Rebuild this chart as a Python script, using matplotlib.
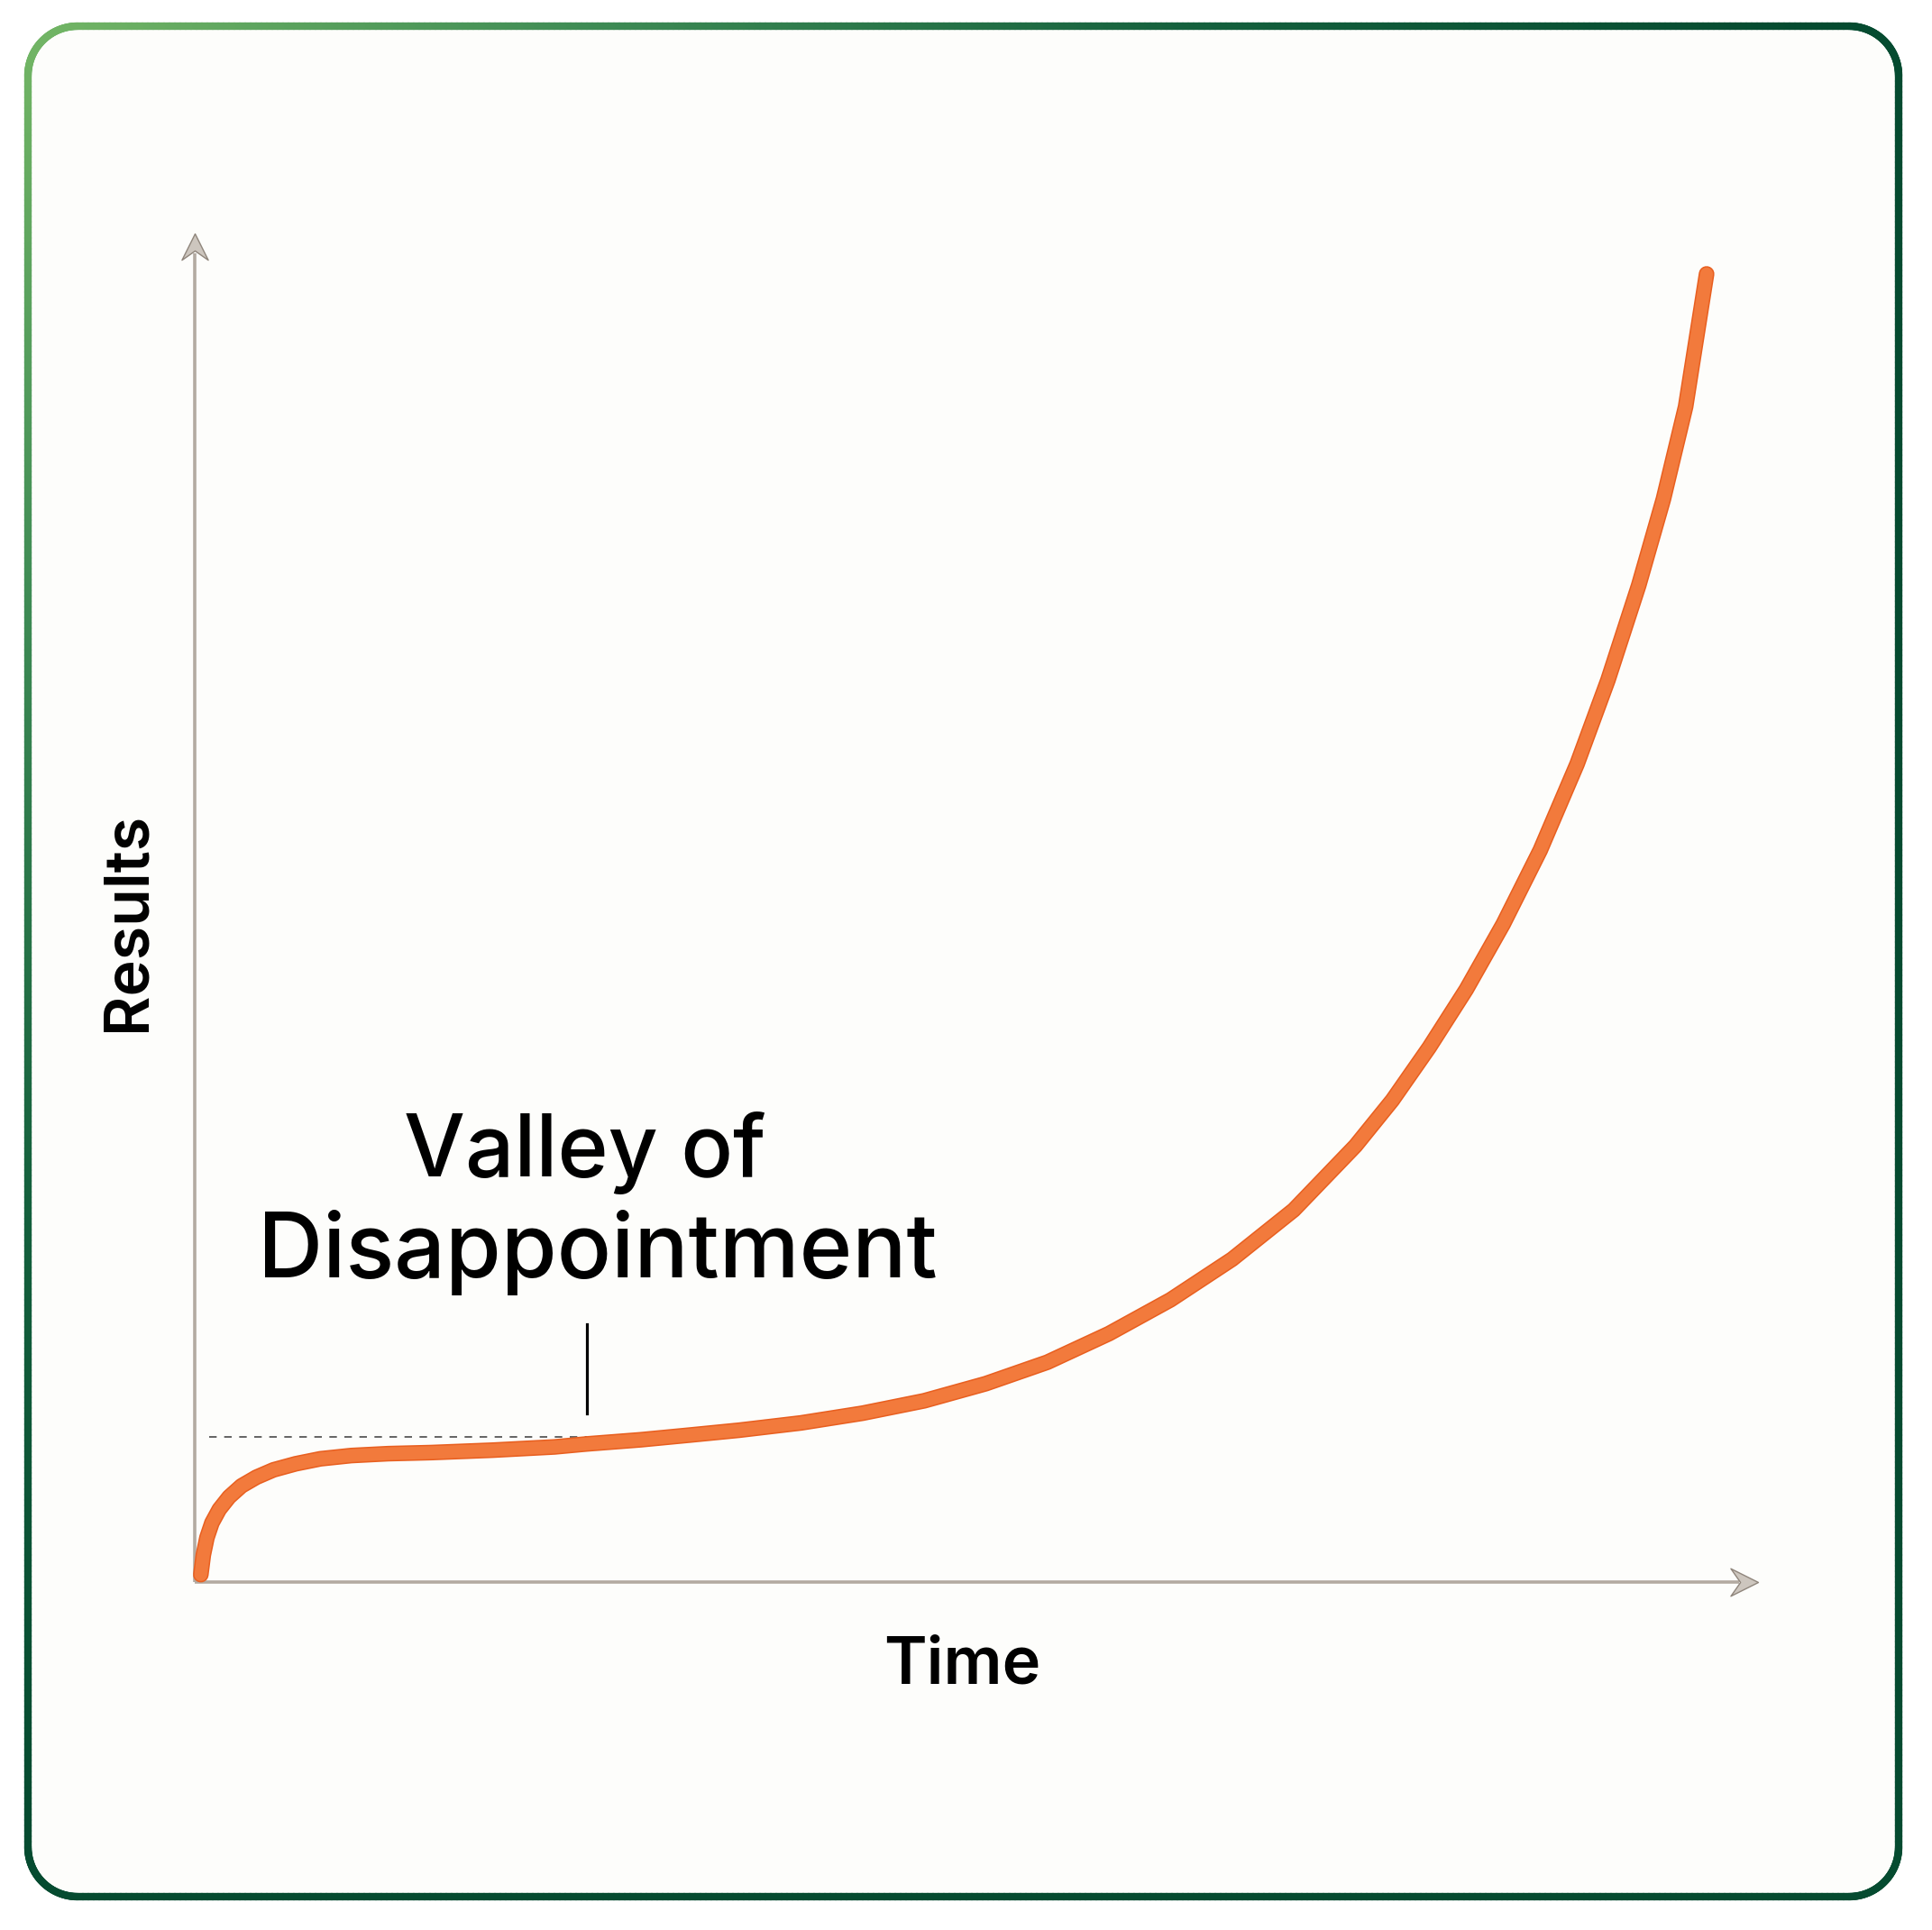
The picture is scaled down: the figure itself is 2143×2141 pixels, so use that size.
import numpy as np
import matplotlib
matplotlib.use("Agg")
import matplotlib.pyplot as plt
from matplotlib.patches import FancyBboxPatch
from matplotlib.collections import LineCollection
from matplotlib.path import Path
from matplotlib.colors import LinearSegmentedColormap

plt.rcParams['font.family'] = ['Inter', 'DejaVu Sans']

# curve (time 0..100, results 0..100)
time_pts = [0.39, 0.55, 0.78, 1.10, 1.57, 2.20, 2.99, 3.94, 5.04, 6.46, 8.04, 10.01,
            12.37, 15.13, 19.07, 23.01, 25.06, 28.53, 31.68, 34.84, 38.78, 42.72,
            46.66, 50.60, 54.54, 58.48, 62.42, 66.36, 70.30, 74.25, 76.61, 78.97,
            81.34, 83.70, 86.07, 88.43, 90.40, 92.37, 93.95, 95.37, 96.71]
results_pts = [0.55, 2.01, 3.29, 4.39, 5.39, 6.31, 7.13, 7.77, 8.32, 8.77, 9.14, 9.38,
               9.52, 9.60, 9.78, 10.02, 10.24, 10.55, 10.90, 11.26, 11.80, 12.52,
               13.44, 14.71, 16.30, 18.42, 20.93, 23.94, 27.59, 32.35, 35.73, 39.65,
               43.95, 48.79, 54.27, 60.67, 66.88, 73.91, 80.31, 87.16, 97.0]

valley_time = 25.06
valley_level = 10.78
valley_tick = [12.5, 19.1]
label_lines = ["Valley of", "Disappointment"]
x_label = "Time"
y_label = "Results"

W, H = 2143, 2141
fig = plt.figure(figsize=(W / 100, H / 100), dpi=100, facecolor='white')

# card background with gradient rounded border
bg = fig.add_axes([0, 0, 1, 1])
bg.set_xlim(0, W)
bg.set_ylim(H, 0)
bg.axis('off')
x0, x1, y0, y1, rad = 31, 2106, 29, 2104, 55
bg.add_patch(FancyBboxPatch((x0, y0), x1 - x0, y1 - y0,
                            boxstyle="round,pad=0,rounding_size=%d" % rad,
                            fc='#fdfdfb', ec='none'))


def arc(cx, cy, a0, a1):
    a = np.radians(np.linspace(a0, a1, 30))
    return np.c_[cx + rad * np.cos(a), cy + rad * np.sin(a)]


pts = np.vstack([
    arc(x0 + rad, y0 + rad, 180, 270),
    [[x1 - rad, y0]],
    arc(x1 - rad, y0 + rad, 270, 360),
    [[x1, y1 - rad]],
    arc(x1 - rad, y1 - rad, 0, 90),
    [[x0 + rad, y1]],
    arc(x0 + rad, y1 - rad, 90, 180),
    [[x0, y0 + rad]],
])
# densify so the colour gradient is smooth
dense = []
for a, b in zip(pts[:-1], pts[1:]):
    n = max(2, int(np.hypot(*(b - a)) / 6))
    dense.append(np.linspace(a, b, n, endpoint=False))
dense.append(pts[-1:])
dense = np.vstack(dense)
segs = np.stack([dense[:-1], dense[1:]], axis=1)
mid = segs.mean(axis=1)
tval = np.clip((mid[:, 0] / W + mid[:, 1] / H) / 0.95, 0, 1)
cmap = LinearSegmentedColormap.from_list('g', ['#78ba67', '#3f8c55', '#14603d', '#054b30'])
lc = LineCollection(segs, colors=cmap(tval), linewidths=6, capstyle='round')
bg.add_collection(lc)

# main chart axes: origin at the axis corner, top at arrow tips
ax = fig.add_axes([216 / W, (H - 1755) / H, (1950 - 216) / W, (1755 - 259) / H])
ax.set_xlim(0, 100)
ax.set_ylim(0, 100)
ax.axis('off')
ax.patch.set_alpha(0)

axis_col = '#b3aaa1'
ax.plot([0, 98.8], [0, 0], color=axis_col, lw=2.6, solid_capstyle='butt', clip_on=False, zorder=2)
ax.plot([0, 0], [0, 98.5], color=axis_col, lw=2.6, solid_capstyle='butt', clip_on=False, zorder=2)

right_head = Path([(0, 0), (-2, 1), (-1.3, 0), (-2, -1), (0, 0)],
                  [Path.MOVETO, Path.LINETO, Path.LINETO, Path.LINETO, Path.CLOSEPOLY])
up_head = Path([(0, 0), (1, -2), (0, -1.3), (-1, -2), (0, 0)],
               [Path.MOVETO, Path.LINETO, Path.LINETO, Path.LINETO, Path.CLOSEPOLY])
ax.plot([100], [0], marker=right_head, ms=44, mfc='#cdc6be', mec='#8f857b', mew=1.0,
        clip_on=False, zorder=3)
ax.plot([0], [100], marker=up_head, ms=42, mfc='#cdc6be', mec='#8f857b', mew=1.0,
        clip_on=False, zorder=3)

# valley guide
ax.plot([0.94, valley_time], [valley_level, valley_level], color='#4a4a4a', lw=1.2,
        dashes=(5, 5), zorder=3)
ax.plot([valley_time, valley_time], valley_tick, color='black', lw=2.3, zorder=3)

# the curve
ax.plot(time_pts, results_pts, color='#e85f20', lw=12.5, solid_capstyle='round',
        solid_joinstyle='round', zorder=4, clip_on=False)
ax.plot(time_pts, results_pts, color='#f27a3c', lw=10.3, solid_capstyle='round',
        solid_joinstyle='round', zorder=5, clip_on=False)

ax.text(24.98, 30.1, label_lines[0], ha='center', va='baseline', fontsize=69,
        color='black', fontweight='medium')
ax.text(25.77, 22.6, label_lines[1], ha='center', va='baseline', fontsize=72,
        color='black', fontweight='medium')

ax.text(49.1, -7.55, x_label, ha='center', va='baseline', fontsize=52,
        fontweight='semibold', color='black', clip_on=False)
ax.text(-3.2, 49.0, y_label, ha='center', va='baseline', rotation=90,
        rotation_mode='anchor', fontsize=49, fontweight='semibold', color='black',
        clip_on=False)

fig.savefig('out.png', dpi=100, facecolor='white')
